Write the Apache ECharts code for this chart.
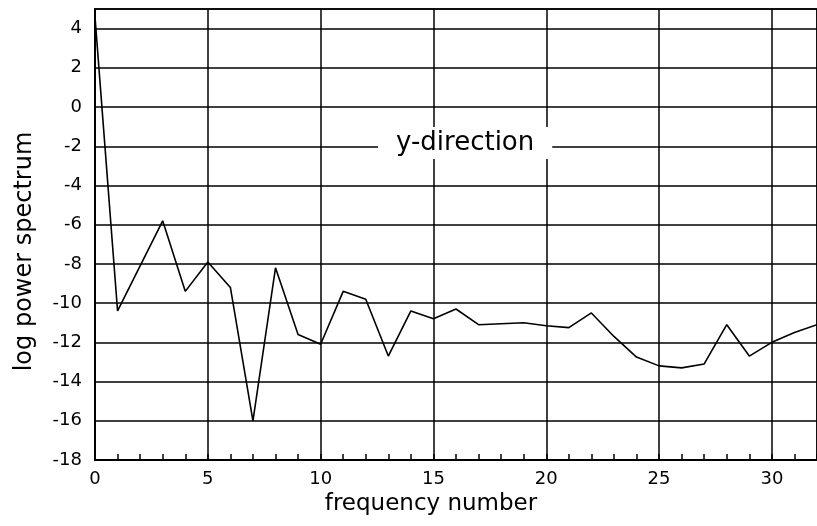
<!DOCTYPE html>
<html>
<head>
<meta charset="utf-8">
<title>y-direction spectrum</title>
<script src="https://cdn.jsdelivr.net/npm/echarts@6/dist/echarts.min.js"></script>
<style>
  html, body { margin: 0; padding: 0; background: #fff; }
  #main { width: 817px; height: 526px; }
</style>
</head>
<body>
<div id="main"></div>
<script>
// frequency numbers and log power values
var freq = [0, 1, 2, 3, 4, 5, 6, 7, 8, 9, 10, 11, 12, 13, 14, 15, 16,
            17, 18, 19, 20, 21, 22, 23, 24, 25, 26, 27, 28, 29, 30, 31, 32];
var logPower = [4.6, -10.4, -8.1, -5.8, -9.4, -7.9, -9.2, -16.0, -8.2, -11.6, -12.1,
                -9.4, -9.8, -12.7, -10.4, -10.8, -10.3, -11.1, -11.05, -11.0, -11.15,
                -11.25, -10.5, -11.7, -12.75, -13.2, -13.3, -13.1, -11.1, -12.7, -12.0,
                -11.5, -11.1];
var xTicks = [0, 5, 10, 15, 20, 25, 30];
var yTicks = [-18, -16, -14, -12, -10, -8, -6, -4, -2, 0, 2, 4];

var points = [];
for (var i = 0; i < freq.length; i++) {
    points.push([freq[i], logPower[i]]);
}

var font = 'DejaVu Sans';
var myChart = echarts.init(document.getElementById('main'));

option = {
    animation: false,
    backgroundColor: '#fff',
    title: {
        text: 'y-direction',
        left: 378,
        top: 127,
        padding: [3, 18, 3, 18],
        backgroundColor: '#fff',
        textStyle: {fontFamily: font, fontSize: 26, fontWeight: 'normal', color: '#000'}
    },
    grid: {
        left: 95, right: -2, top: 9, bottom: 66,
        show: true, borderColor: '#000', borderWidth: 1.5
    },
    xAxis: [
        {
            type: 'value',
            min: 0, max: 32, interval: 5,
            name: 'frequency number',
            nameLocation: 'middle',
            nameGap: 30,
            nameTextStyle: {fontFamily: font, fontSize: 23, color: '#000', padding: [0, 50, 0, 0]},
            axisLine: {show: true, onZero: false, lineStyle: {color: '#000', width: 2}},
            axisTick: {show: false},
            axisLabel: {
                fontFamily: font, fontSize: 18, color: '#000', margin: 10,
                showMaxLabel: false,
                formatter: function (v) { return xTicks.indexOf(v) >= 0 ? String(v) : ''; }
            },
            splitLine: {show: true, lineStyle: {color: '#000', width: 1.5}}
        },
        {
            // small tick marks at every frequency number
            type: 'value',
            position: 'bottom',
            min: 0, max: 32, interval: 1,
            axisLine: {show: false, onZero: false},
            axisTick: {show: true, inside: true, length: 6, lineStyle: {color: '#000', width: 1.5}},
            axisLabel: {show: false},
            splitLine: {show: false}
        }
    ],
    yAxis: {
        type: 'value',
        min: -18, max: 5, interval: 2,
        name: 'log power spectrum',
        nameLocation: 'middle',
        nameGap: 58,
        nameTextStyle: {fontFamily: font, fontSize: 24, color: '#000', padding: [0, 34, 0, 0]},
        axisLine: {show: true, onZero: false, lineStyle: {color: '#000', width: 2}},
        axisTick: {show: false},
        axisLabel: {
            fontFamily: font, fontSize: 18, color: '#000', margin: 13,
            showMaxLabel: false,
            formatter: function (v) { return yTicks.indexOf(v) >= 0 ? String(v) : ''; }
        },
        splitLine: {show: true, lineStyle: {color: '#000', width: 1.5}}
    },
    series: [
        {
            name: 'y-direction',
            type: 'line',
            data: points,
            showSymbol: false,
            symbol: 'none',
            clip: true,
            lineStyle: {color: '#000', width: 1.6}
        }
    ]
};

myChart.setOption(option);
</script>
</body>
</html>
